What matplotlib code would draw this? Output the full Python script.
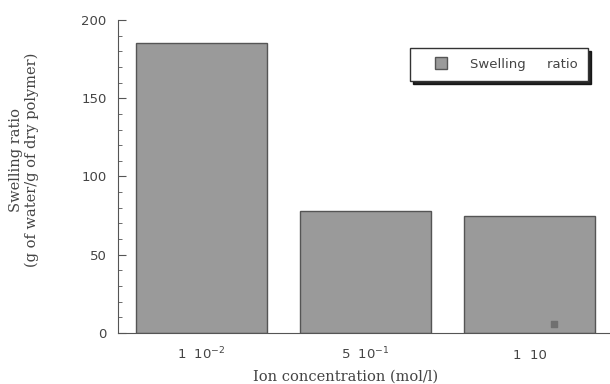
import matplotlib
matplotlib.use("Agg")
import matplotlib.pyplot as plt
from matplotlib.lines import Line2D
from matplotlib.ticker import MultipleLocator

# Data
categories = ["1  10$^{-2}$", "5  10$^{-1}$", "1  10"]
swelling = [185, 78, 75]
stray_x = [2.15]
stray_y = [6]

fig = plt.figure(figsize=(6.1, 3.84), dpi=100)
ax = fig.add_axes([0.193, 0.133, 0.807, 0.815])

x = range(len(categories))
ax.bar(x, swelling, width=0.8, color="#9a9a9a", edgecolor="#555555",
       linewidth=1.0)
ax.scatter(stray_x, stray_y, marker="s", s=14, color="#707070", zorder=3)

ax.set_xlim(-0.51, 2.49)
ax.set_ylim(0, 200)
ax.set_xticks(list(x))
ax.set_xticklabels(categories, fontsize=9.5, color="#444444")
for lab in ax.get_xticklabels():
    lab.set_verticalalignment("baseline")
ax.tick_params(axis="x", length=0, pad=19)
ax.yaxis.set_major_locator(MultipleLocator(50))
ax.yaxis.set_minor_locator(MultipleLocator(10))
ax.tick_params(axis="y", which="major", direction="in", length=6,
               labelsize=9.5, labelcolor="#444444", color="#555555", pad=8)
ax.tick_params(axis="y", which="minor", direction="in", length=3,
               color="#555555")

for s in ["top", "right"]:
    ax.spines[s].set_visible(False)
for s in ["left", "bottom"]:
    ax.spines[s].set_color("#555555")

ax.set_ylabel("Swelling ratio\n(g of water/g of dry polymer)",
              family="DejaVu Serif", fontsize=10.5, color="#444444",
              linespacing=1.1)
ax.yaxis.set_label_coords(-0.16, 0.553)
ax.set_xlabel("Ion concentration (mol/l)", family="DejaVu Serif",
              fontsize=10.5, color="#444444")
ax.xaxis.set_label_coords(0.463, -0.118)

handle = Line2D([], [], linestyle="none", marker="s", markersize=8,
                markerfacecolor="#9a9a9a", markeredgecolor="#555555")
leg = ax.legend([handle], ["Swelling     ratio"], loc="upper right",
                bbox_to_anchor=(0.955, 0.91),
                fontsize=9.5, frameon=True, fancybox=False,
                shadow={"color": "black", "alpha": 0.85},
                handlelength=3.2, borderpad=0.75,
                borderaxespad=0, handletextpad=0.6)
leg.get_frame().set_edgecolor("#333333")
for t in leg.get_texts():
    t.set_color("#444444")

fig.savefig("out.png", dpi=100)
